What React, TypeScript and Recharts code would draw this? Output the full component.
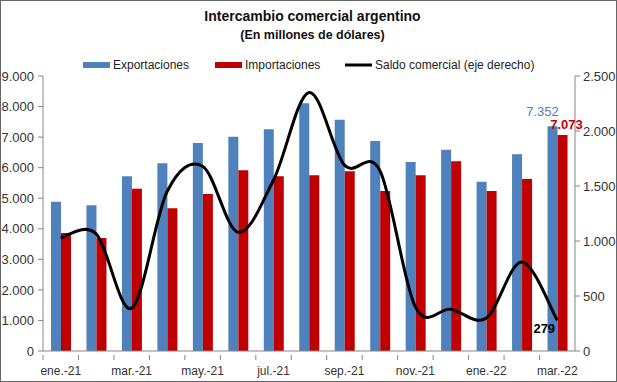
import {
  Bar,
  ComposedChart,
  LabelList,
  Line,
  XAxis,
  YAxis,
} from "recharts";

const months = [
  "ene.-21", "feb.-21", "mar.-21", "abr.-21", "may.-21", "jun.-21", "jul.-21", "ago.-21",
  "sep.-21", "oct.-21", "nov.-21", "dic.-21", "ene.-22", "feb.-22", "mar.-22",
];
const exportaciones = [4887, 4770, 5717, 6143, 6808, 7015, 7256, 8106, 7571, 6873, 6186, 6590, 5542, 6437, 7352];
const importaciones = [3860, 3700, 5312, 4670, 5138, 5913, 5717, 5750, 5881, 5237, 5750, 6208, 5237, 5630, 7073];
const saldo = [1030, 1065, 390, 1450, 1680, 1080, 1555, 2350, 1690, 1640, 400, 380, 300, 810, 279];
const leftTicks = [0, 1000, 2000, 3000, 4000, 5000, 6000, 7000, 8000, 9000];
const rightTicks = [0, 500, 1000, 1500, 2000, 2500];

const chartData = months.map((month, i) => ({
  month,
  exportaciones: exportaciones[i],
  importaciones: importaciones[i],
  saldo: saldo[i],
}));

const FONT = "'Liberation Sans', Arial, sans-serif";
const BLUE = "#4f81bd";
const RED = "#c00000";
const AXIS = "#868686";
const TEXT = "#333333";
const lastIndex = months.length - 1;

const fmt = (v: number): string => String(v).replace(/\B(?=(\d{3})+(?!\d))/g, ".");

// Excel-style smoothed line (Catmull-Rom through the points)
const excelSmooth = (context: any) => {
  let pts: [number, number][] = [];
  return {
    areaStart() {},
    areaEnd() {},
    lineStart() {
      pts = [];
    },
    point(x: number, y: number) {
      pts.push([+x, +y]);
    },
    lineEnd() {
      if (!pts.length) return;
      context.moveTo(pts[0][0], pts[0][1]);
      for (let i = 0; i < pts.length - 1; i++) {
        const p0 = pts[i - 1] ?? pts[i];
        const p1 = pts[i];
        const p2 = pts[i + 1];
        const p3 = pts[i + 2] ?? p2;
        context.bezierCurveTo(
          p1[0] + (p2[0] - p0[0]) / 6,
          p1[1] + (p2[1] - p0[1]) / 6,
          p2[0] - (p3[0] - p1[0]) / 6,
          p2[1] - (p3[1] - p1[1]) / 6,
          p2[0],
          p2[1],
        );
      }
    },
  };
};

const MonthTick = (props: any) => {
  const { x, y, payload, index } = props;
  const half = 532 / months.length / 2;
  return (
    <g>
      <line x1={x - half} x2={x - half} y1={y - 4} y2={y + 1} stroke={AXIS} />
      <text x={x} y={y + 16} textAnchor="middle" fontSize={12} fill={TEXT} fontFamily={FONT}>
        {index % 2 === 0 ? payload.value : ""}
      </text>
    </g>
  );
};

const lastLabel = (color: string, dx: number, dy: number, bold: boolean) => (props: any) => {
  const { x, y, width, value, index } = props;
  if (index !== lastIndex) return null;
  const cx = width ? x + width / 2 : x;
  return (
    <text x={cx + dx} y={y + dy} textAnchor="middle" fontSize={13} fill={color}
      fontWeight={bold ? "bold" : "normal"} fontFamily={FONT}>
      {fmt(value)}
    </text>
  );
};

const ChartLegend = () => (
  <svg width={617} height={20} style={{ position: "absolute", left: -1, top: 54 }}>
    <rect x={83} y={7} width={27} height={6} fill={BLUE} />
    <text x={113} y={14} fontSize={12} fill="#222" fontFamily={FONT}>Exportaciones</text>
    <rect x={215} y={7} width={27} height={6} fill={RED} />
    <text x={245} y={14} fontSize={12} fill="#222" fontFamily={FONT}>Importaciones</text>
    <line x1={345} x2={372} y1={10} y2={10} stroke="#000" strokeWidth={3} />
    <text x={375} y={14} fontSize={12} fill="#222" fontFamily={FONT}>Saldo comercial (eje derecho)</text>
  </svg>
);

export default function App() {
  return (
    <div
      style={{
        position: "absolute",
        left: 0,
        top: 0,
        width: 617,
        height: 382,
        boxSizing: "border-box",
        border: "1px solid #666",
        background: "#fff",
        fontFamily: FONT,
      }}
    >
      <div style={{ position: "absolute", top: 7, width: "100%", textAlign: "center", fontSize: 14, fontWeight: "bold", color: "#111", left: 4 }}>
        Intercambio comercial argentino
      </div>
      <div style={{ position: "absolute", top: 27, width: "100%", textAlign: "center", fontSize: 12.5, fontWeight: "bold", color: "#111", left: 4 }}>
        (En millones de dólares)
      </div>
      <ChartLegend />
      <div style={{ position: "absolute", left: -1, top: -1 }}>
        <ComposedChart
          width={617}
          height={382}
          data={chartData}
          margin={{ top: 76, right: 0, bottom: 0, left: 0 }}
          barGap={0}
          barCategoryGap={0}
        >
          <XAxis
            dataKey="month"
            height={31}
            interval={0}
            tickLine={false}
            axisLine={{ stroke: AXIS }}
            tick={<MonthTick />}
          />
          <YAxis
            yAxisId="left"
            width={43}
            domain={[0, 9000]}
            ticks={leftTicks}
            tickFormatter={fmt}
            tick={{ fontSize: 13, fill: TEXT, fontFamily: FONT }}
            tickSize={5}
            tickMargin={4}
            stroke={AXIS}
          />
          <YAxis
            yAxisId="right"
            orientation="right"
            width={42}
            domain={[0, 2500]}
            ticks={rightTicks}
            tickFormatter={fmt}
            tick={{ fontSize: 13, fill: TEXT, fontFamily: FONT }}
            tickSize={5}
            tickMargin={3}
            stroke={AXIS}
          />
          <Bar yAxisId="left" dataKey="exportaciones" fill={BLUE} barSize={10} isAnimationActive={false}>
            <LabelList dataKey="exportaciones" content={lastLabel(BLUE, -10, -10, false)} />
          </Bar>
          <Bar yAxisId="left" dataKey="importaciones" fill={RED} barSize={10} isAnimationActive={false}>
            <LabelList dataKey="importaciones" content={lastLabel(RED, 4, -6, true)} />
          </Bar>
          <Line
            yAxisId="right"
            type={excelSmooth as any}
            dataKey="saldo"
            stroke="#000"
            strokeWidth={3}
            dot={false}
            isAnimationActive={false}
          >
            <LabelList dataKey="saldo" content={lastLabel("#000", -13, 13, true)} />
          </Line>
        </ComposedChart>
      </div>
    </div>
  );
}
